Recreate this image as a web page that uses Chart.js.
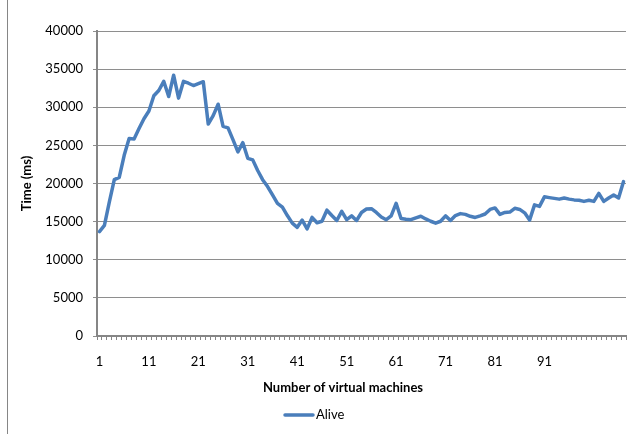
<!DOCTYPE html>
<html>
<head>
<meta charset="utf-8">
<script src="https://cdn.jsdelivr.net/npm/chart.js@4.4.1/dist/chart.umd.min.js"></script>
<style>
  html, body { margin: 0; padding: 0; background: #ffffff; }
  #wrap { position: relative; width: 639px; height: 434px; }
</style>
</head>
<body>
<div id="wrap"><canvas id="chart" width="639" height="434"></canvas></div>
<script>
// Number of virtual machines (category axis)
const machines = Array.from({ length: 107 }, (_, i) => String(i + 1));

// Response time of the "Alive" run, in milliseconds
const aliveTimes = [
  13700, 14500, 17600, 20500, 20800, 23700, 25900, 25850, 27200, 28500,
  29500, 31500, 32200, 33400, 31400, 34200, 31200, 33400, 33150, 32850,
  33100, 33350, 27800, 28900, 30400, 27500, 27300, 25750, 24150, 25350,
  23300, 23100, 21700, 20500, 19600, 18500, 17400, 16900, 15800, 14800,
  14250, 15200, 14050, 15550, 14850, 15050, 16500, 15800, 15150, 16350,
  15250, 15750, 15150, 16200, 16650, 16700, 16200, 15600, 15250, 15750,
  17400, 15400, 15300, 15250, 15500, 15700, 15350, 15050, 14800, 15050,
  15750, 15150, 15800, 16050, 15950, 15700, 15550, 15750, 16000, 16600,
  16800, 15950, 16200, 16250, 16750, 16600, 16150, 15200, 17200, 17000,
  18250, 18150, 18050, 17950, 18100, 17950, 17850, 17800, 17650, 17800,
  17650, 18700, 17650, 18100, 18500, 18100, 20250
];

// Labelled categories on the x axis and value ticks on the y axis
const xTickLabels = ['1', '11', '21', '31', '41', '51', '61', '71', '81', '91'];
const yTicks = [0, 5000, 10000, 15000, 20000, 25000, 30000, 35000, 40000];

const seriesName = 'Alive';
const xTitle = 'Number of virtual machines';
const yTitle = 'Time (ms)';

const LINE_COLOR = '#4a7ebb';
const AXIS_COLOR = '#868686';
const GRID_COLOR = '#8e8e8e';
const FONT = 'Lato, "Open Sans", sans-serif';

// Titles, legend and frame drawn around the plot
const decorations = {
  id: 'decorations',
  afterDraw(chart) {
    const ctx = chart.ctx;
    ctx.save();

    // frame edge on the left
    ctx.strokeStyle = AXIS_COLOR;
    ctx.lineWidth = 1;
    ctx.beginPath();
    ctx.moveTo(7.5, 0);
    ctx.lineTo(7.5, 434);
    ctx.stroke();

    ctx.fillStyle = '#000';
    ctx.font = 'bold 13px ' + FONT;
    ctx.textAlign = 'center';
    ctx.textBaseline = 'middle';

    // x axis title
    ctx.fillText(xTitle, 343, 388);

    // y axis title
    ctx.save();
    ctx.translate(27, 183.5);
    ctx.rotate(-Math.PI / 2);
    ctx.fillText(yTitle, 0, 0);
    ctx.restore();

    // legend
    ctx.strokeStyle = LINE_COLOR;
    ctx.lineWidth = 3.5;
    ctx.lineCap = 'round';
    ctx.beginPath();
    ctx.moveTo(285, 415);
    ctx.lineTo(313, 415);
    ctx.stroke();
    ctx.font = '13px ' + FONT;
    ctx.textAlign = 'left';
    ctx.fillText(seriesName, 316, 415);

    ctx.restore();
  }
};

new Chart(document.getElementById('chart').getContext('2d'), {
  type: 'line',
  data: {
    labels: machines,
    datasets: [{
      label: seriesName,
      data: aliveTimes,
      borderColor: LINE_COLOR,
      backgroundColor: LINE_COLOR,
      borderWidth: 3.5,
      borderJoinStyle: 'round',
      borderCapStyle: 'round',
      pointRadius: 0,
      tension: 0,
      fill: false
    }]
  },
  options: {
    responsive: false,
    animation: false,
    devicePixelRatio: 1,
    layout: { padding: { left: 0, right: 13, top: 31, bottom: 0 } },
    plugins: {
      legend: { display: false },
      tooltip: { enabled: false }
    },
    scales: {
      x: {
        type: 'category',
        offset: true,
        grid: {
          display: true,
          offset: true,
          drawOnChartArea: false,
          drawTicks: true,
          tickLength: 4,
          color: AXIS_COLOR,
          lineWidth: 1
        },
        border: { display: true, color: AXIS_COLOR, width: 2 },
        ticks: {
          autoSkip: false,
          maxRotation: 0,
          minRotation: 0,
          padding: 14,
          color: '#000',
          font: { family: FONT, size: 13 },
          callback: (v, i) => xTickLabels.includes(machines[i]) ? machines[i] : ''
        },
        afterFit: (scale) => { scale.height = 98; }
      },
      y: {
        min: yTicks[0],
        max: yTicks[yTicks.length - 1],
        afterBuildTicks: (scale) => { scale.ticks = yTicks.map(v => ({ value: v })); },
        grid: {
          color: GRID_COLOR,
          lineWidth: 1,
          drawTicks: true,
          tickLength: 4
        },
        border: { display: true, color: AXIS_COLOR, width: 2 },
        ticks: {
          padding: 10,
          color: '#000',
          font: { family: FONT, size: 13 },
          callback: (v) => String(v)
        },
        afterFit: (scale) => { scale.width = 97; }
      }
    }
  },
  plugins: [decorations]
});
</script>
</body>
</html>
